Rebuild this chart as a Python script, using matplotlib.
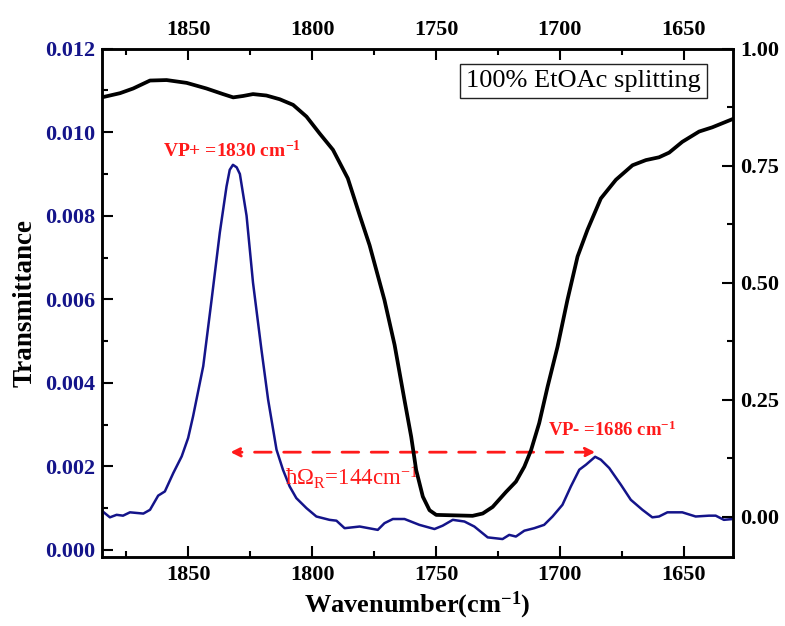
import matplotlib
matplotlib.use("Agg")
import matplotlib.pyplot as plt
from matplotlib.ticker import MultipleLocator, FormatStrFormatter

# ---------------- data ----------------
blue_wn = [1885, 1881.7, 1879.0, 1876.4, 1873.6, 1868.2, 1865.5, 1862.2, 1859.5, 1856.1,
           1852.7, 1850.1, 1848.1, 1844.0, 1840.6, 1837.3, 1834.6, 1833.3, 1832.0, 1830.5,
           1829.2, 1826.5,
           1823.9, 1820.5, 1817.8, 1814.4, 1811.8, 1809.1, 1806.4, 1802.3, 1798.3, 1793.0,
           1790.2, 1786.9, 1780.8, 1773.5, 1770.8, 1767.4, 1762.7, 1756.7, 1750.6, 1747.3,
           1743.2, 1738.5, 1734.5, 1729.1, 1723.1, 1720.4, 1717.7, 1714.3, 1710.3, 1706.3,
           1702.9, 1698.9, 1695.5, 1692.1, 1689.4, 1685.7, 1683.4, 1680.0, 1675.3, 1671.3,
           1666.6, 1662.6, 1659.9, 1656.5, 1650.5, 1645.1, 1639.7, 1637.0, 1633.7, 1630.0]
blue_val = [0.00094, 0.00078, 0.00084, 0.00082, 0.00090, 0.00087, 0.00096, 0.00130, 0.00140, 0.00184,
            0.00224, 0.00268, 0.00320, 0.00440, 0.00600, 0.00760, 0.00870, 0.00910, 0.00922, 0.00916,
            0.00900, 0.00800,
            0.00640, 0.00480, 0.00360, 0.00240, 0.00192, 0.00152, 0.00124, 0.00100, 0.00080, 0.00072,
            0.00070, 0.00052, 0.00056, 0.00048, 0.00064, 0.00074, 0.00074, 0.00060, 0.00050, 0.00058,
            0.00072, 0.00068, 0.00056, 0.00030, 0.00026, 0.00036, 0.00032, 0.00046, 0.00052, 0.00060,
            0.00080, 0.00108, 0.00152, 0.00192, 0.00204, 0.00223, 0.00216, 0.00196, 0.00156, 0.00120,
            0.00096, 0.00078, 0.00080, 0.00090, 0.00090, 0.00080, 0.00082, 0.00082, 0.00072, 0.00074]

black_wn = [1885, 1877.6, 1872.3, 1865.5, 1858.8, 1850.7, 1842.7, 1836.0, 1831.9, 1827.9,
            1823.9, 1818.5, 1813.1, 1807.7, 1802.3, 1797.0, 1791.6, 1785.6, 1780.8, 1776.8,
            1770.8, 1766.7, 1762.7, 1760.0, 1758.0, 1755.3, 1752.6, 1749.9, 1735.2, 1731.1,
            1727.1, 1721.7, 1717.7, 1714.3, 1711.6, 1708.3, 1704.9, 1700.9, 1696.9, 1692.8,
            1688.8, 1683.4, 1677.3, 1670.6, 1665.2, 1659.9, 1655.8, 1650.5, 1643.7, 1638.4, 1630.0]
black_val = [0.896, 0.905, 0.915, 0.932, 0.933, 0.927, 0.915, 0.903, 0.896, 0.899,
             0.903, 0.900, 0.892, 0.880, 0.855, 0.819, 0.784, 0.723, 0.644, 0.580,
             0.463, 0.367, 0.249, 0.171, 0.100, 0.043, 0.014, 0.004, 0.002, 0.007,
             0.021, 0.053, 0.075, 0.107, 0.142, 0.200, 0.278, 0.363, 0.463, 0.556,
             0.613, 0.680, 0.720, 0.751, 0.762, 0.768, 0.778, 0.801, 0.823, 0.832, 0.850]

vp_plus = 1830
vp_minus = 1686
arrow_start = 1833
arrow_end = 1685.7
arrow_y = 0.00234

# ---------------- style ----------------
plt.rcParams['font.family'] = ['Liberation Serif', 'DejaVu Serif']
plt.rcParams['mathtext.fontset'] = 'custom'
plt.rcParams['mathtext.rm'] = 'Liberation Serif'
plt.rcParams['mathtext.bf'] = 'Liberation Serif:bold'
plt.rcParams['mathtext.it'] = 'Liberation Serif:italic'

navy = '#14148a'
red = '#ff1a1a'
tick_fs = 16

fig = plt.figure(figsize=(7.85, 6.26), dpi=100)
ax = fig.add_axes([0.1296, 0.1102, 0.8042, 0.812])
ax2 = ax.twinx()

ax.plot(blue_wn, blue_val, color=navy, lw=1.8, zorder=3)
ax2.plot(black_wn, black_val, color='black', lw=2.7)

ax.set_xlim(1885, 1630)
ax.set_ylim(-0.00017, 0.012)
ax2.set_ylim(-0.086, 1.0)

ax.xaxis.set_major_locator(MultipleLocator(50))
ax.xaxis.set_minor_locator(MultipleLocator(25))
ax.yaxis.set_major_locator(MultipleLocator(0.002))
ax.yaxis.set_minor_locator(MultipleLocator(0.001))
ax.yaxis.set_major_formatter(FormatStrFormatter('%.3f'))
ax2.yaxis.set_major_locator(MultipleLocator(0.25))
ax2.yaxis.set_minor_locator(MultipleLocator(0.125))
ax2.yaxis.set_major_formatter(FormatStrFormatter('%.2f'))

ax.tick_params(axis='x', which='both', direction='in', top=True, labeltop=True,
               labelsize=tick_fs, width=1.5, pad=6)
ax.tick_params(axis='x', which='major', length=8)
ax.tick_params(axis='x', which='minor', length=4.5)
ax.tick_params(axis='y', which='both', direction='in', labelsize=tick_fs, width=1.5,
               labelcolor=navy, right=False, pad=5)
ax.tick_params(axis='y', which='major', length=8)
ax.tick_params(axis='y', which='minor', length=4.5)
ax2.tick_params(axis='y', which='both', direction='in', labelsize=tick_fs, width=1.5, pad=5)
ax2.tick_params(axis='y', which='major', length=8)
ax2.tick_params(axis='y', which='minor', length=4.5)

for lab in ax.get_xticklabels() + ax.get_yticklabels() + ax2.get_yticklabels():
    lab.set_fontweight('bold')
for a in (ax, ax2):
    for s in a.spines.values():
        s.set_linewidth(1.8)

ax.set_xlabel('Wavenumber(cm$^{\\mathbf{-1}}$)', fontsize=19, fontweight='bold', labelpad=3)
ax.set_ylabel('Transmittance', fontsize=19.5, fontweight='bold', labelpad=5)

# annotations
ax.annotate('', xy=(arrow_start, arrow_y), xytext=(arrow_end, arrow_y),
            arrowprops=dict(arrowstyle='<|-|>', color=red, lw=2, ls=(0, (6, 4.5)),
                            mutation_scale=14, shrinkA=0, shrinkB=0), zorder=4)
ax.text(1832.5, 0.00956, 'VP+ =1830 cm$^{\\mathbf{-1}}$', color=red, fontsize=14,
        fontweight='bold', ha='center', va='center')
ax.text(1678.8, 0.00286, 'VP- =1686 cm$^{\\mathbf{-1}}$', color=red, fontsize=13.5,
        fontweight='bold', ha='center', va='center')
ax.text(1811.1, 0.00156, 'ħΩ$_{\\mathrm{R}}$=144cm$^{\\mathrm{-1}}$', color=red, fontsize=16.5,
        ha='left', va='baseline')

ax.text(0.763, 0.9365, '100% EtOAc splitting', transform=ax.transAxes, fontsize=19,
        ha='center', va='center',
        bbox=dict(boxstyle='square,pad=0.22', fc='white', ec='#222222', lw=1))

fig.savefig('out.png', dpi=100)
